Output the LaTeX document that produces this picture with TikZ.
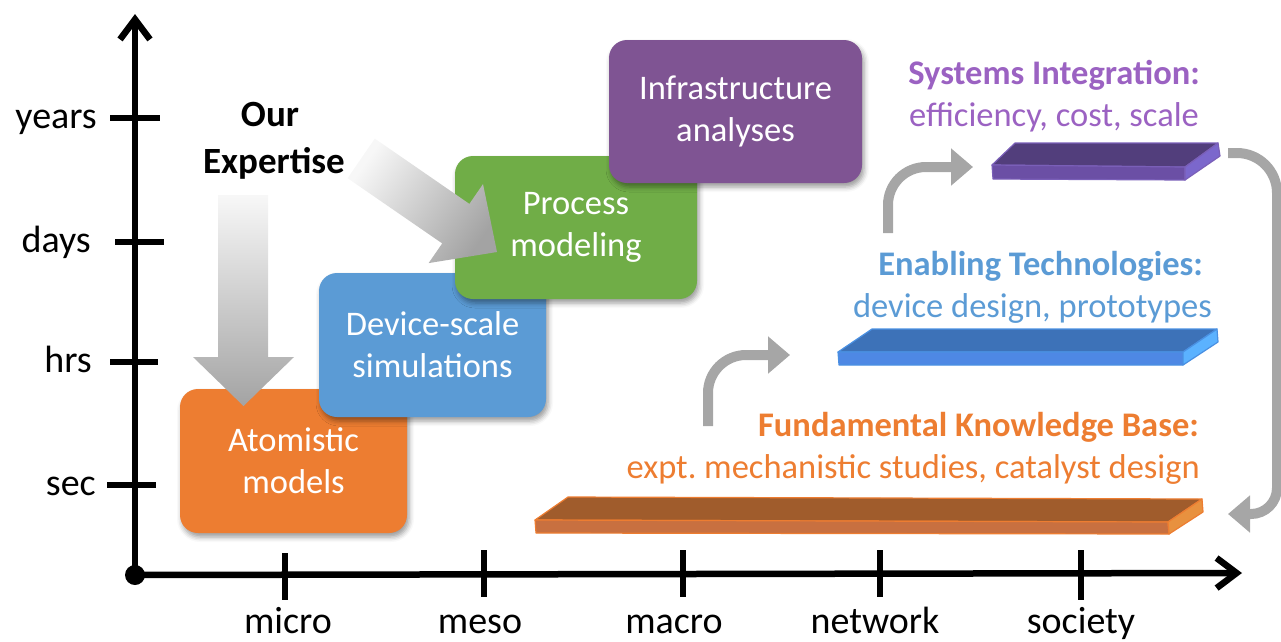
\documentclass[tikz,border=0pt]{standalone}
\usepackage{fontspec}
\setmainfont{Carlito}
\usetikzlibrary{arrows.meta,shadows.blur,calc}

% palette
\definecolor{cOrange}{HTML}{ED7D31}
\definecolor{cBlue}{HTML}{5B9BD5}
\definecolor{cGreen}{HTML}{70AD47}
\definecolor{cPurple}{HTML}{7F5493}
\definecolor{cPurpleText}{HTML}{9B62C2}
\definecolor{cArrow}{HTML}{A6A6A6}
% slab faces
\definecolor{pTop}{HTML}{523E7C}
\definecolor{pFront}{HTML}{6B4FA5}
\definecolor{pSide}{HTML}{7B67CC}
\definecolor{pEdge}{HTML}{7A5FB8}
\definecolor{bTop}{HTML}{3D72B8}
\definecolor{bFront}{HTML}{4E88E4}
\definecolor{bSide}{HTML}{5BB2FF}
\definecolor{bEdge}{HTML}{4A90E2}
\definecolor{oTop}{HTML}{A05C2C}
\definecolor{oFront}{HTML}{C87040}
\definecolor{oSide}{HTML}{E8913F}

\begin{document}
\begin{tikzpicture}[x=1pt,y=-1pt,
  axis/.style={line width=6.5pt,black,-{Straight Barb[length=20pt,width=30pt]}},
  tickmark/.style={line width=5.5pt,black},
  axlabel/.style={font=\fontsize{38}{40}\selectfont,inner sep=0pt},
  scalebox/.style={rounded corners=18pt,text=white,align=center,inner sep=0pt,
    font=\fontsize{34.5}{42}\selectfont,
    blur shadow={shadow xshift=2pt,shadow yshift=-4pt,shadow blur radius=5pt,shadow opacity=40}},
  headline/.style={font=\bfseries\fontsize{34.5}{42}\selectfont,inner sep=0pt,anchor=base east},
  subline/.style={font=\fontsize{34.5}{42}\selectfont,inner sep=0pt,anchor=base east},
  slabedge/.style={line width=1.2pt,line join=round},
  garrow/.style={line width=10pt,cArrow,-{Triangle[length=22pt,width=36pt]}},
  bigarrow/.style={top color=black!3,bottom color=black!36},
]
\useasboundingbox (0,0) rectangle (1281,641);

% ---- axes ----
\coordinate (O) at (135,575);
\coordinate (ytop) at (135,14);
\coordinate (xend) at (1242,573);
\draw[axis] (O) -- (ytop);
\draw[axis] (O) -- (xend);
\fill (O) circle (10);

% time ticks and labels
\draw[tickmark] (110,118) -- (160,118);
\draw[tickmark] (115,242) -- (164,242);
\draw[tickmark] (110,362) -- (158,362);
\draw[tickmark] (107,485) -- (156,485);
\node[axlabel,anchor=base east] (tyears) at (97,128) {years};
\node[axlabel,anchor=base east] (tdays)  at (91,252) {days};
\node[axlabel,anchor=base east] (thrs)   at (92,372) {hrs};
\node[axlabel,anchor=base east] (tsec)   at (96,495) {sec};

% scale ticks and labels
\draw[tickmark] (285,553) -- (285,600);
\draw[tickmark] (484,550) -- (484,597);
\draw[tickmark] (683,550) -- (683,597);
\draw[tickmark] (880,550) -- (880,597);
\draw[tickmark] (1081,550) -- (1081,600);
\node[axlabel,anchor=base] (smicro)   at (288,633) {micro};
\node[axlabel,anchor=base] (smeso)    at (480,633) {meso};
\node[axlabel,anchor=base] (smacro)   at (674,633) {macro};
\node[axlabel,anchor=base] (snetwork) at (875,633) {network};
\node[axlabel,anchor=base] (ssociety) at (1081,633) {society};

% ---- modelling scales, stacked left to right ----
\node[scalebox,fill=cOrange,minimum width=227pt,minimum height=144pt] (atom) at (293.5,461) {Atomistic\\models};
\node[scalebox,fill=cBlue,minimum width=227pt,minimum height=144pt] (device) at (432.5,345) {Device-scale\\simulations};
\node[scalebox,fill=cGreen,minimum width=242pt,minimum height=143pt] (process) at (576,227.5) {Process\\modeling};
\node[scalebox,fill=cPurple,minimum width=253pt,minimum height=143pt] (infra) at (735.5,111.5) {Infrastructure\\analyses};

% ---- expertise arrows ----
\shade[bigarrow] (218,195) -- (268,195) -- (268,357) -- (294,357) -- (243.5,406)
  -- (193,357) -- (218,357) -- cycle;
\shade[bigarrow,shading angle=55] (374.8,138.6) -- (469.4,203.9) -- (483.0,184.1)
  -- (497,252) -- (428.6,263.1) -- (442.2,243.4) -- (347.6,178.2) -- cycle;
\node[font=\bfseries\fontsize{37}{40}\selectfont,inner sep=0pt,anchor=base] (ourA) at (270,126) {Our};
\node[font=\bfseries\fontsize{37}{40}\selectfont,inner sep=0pt,anchor=base] (ourB) at (274,173) {Expertise};

% ---- impact levels ----
\node[headline,text=cPurpleText] (si1) at (1200,84) {Systems Integration:};
\node[subline,text=cPurpleText] (si2) at (1199,126) {efficiency, cost, scale};
\node[headline,text=cBlue] (et1) at (1203,275) {Enabling Technologies:};
\node[subline,text=cBlue] (et2) at (1212,317) {device design, prototypes};
\node[headline,text=cOrange] (fk1) at (1199,436) {Fundamental Knowledge Base:};
\node[subline,text=cOrange] (fk2) at (1200,478) {expt.\ mechanistic studies, catalyst design};

% purple slab
\filldraw[slabedge,fill=pTop,draw=pEdge] (992,165) -- (1015,143) -- (1218,143) -- (1185,167) -- cycle;
\filldraw[slabedge,fill=pFront,draw=pEdge] (992,165) -- (1185,167) -- (1185,180) -- (993,179) -- cycle;
\filldraw[slabedge,fill=pSide,draw=pEdge] (1185,167) -- (1218,143) -- (1220,156) -- (1185,180) -- cycle;
% blue slab
\filldraw[slabedge,fill=bTop,draw=bEdge] (838,352) -- (872,329) -- (1217,329) -- (1183,352) -- cycle;
\filldraw[slabedge,fill=bFront,draw=bEdge] (838,352) -- (1183,352) -- (1183,365) -- (839,365) -- cycle;
\filldraw[slabedge,fill=bSide,draw=bEdge] (1183,352) -- (1217,329) -- (1218,342) -- (1183,365) -- cycle;
% orange slab
\filldraw[slabedge,fill=oTop,draw=cOrange] (535,520) -- (568,497) -- (1202,499) -- (1168,522) -- cycle;
\filldraw[slabedge,fill=oFront,draw=cOrange] (535,520) -- (1168,522) -- (1169,534) -- (536,533) -- cycle;
\filldraw[slabedge,fill=oSide,draw=cOrange] (1168,522) -- (1202,499) -- (1203,512) -- (1169,534) -- cycle;

% ---- feedback arrows between levels ----
\coordinate (up1s) at (708,426);
\coordinate (up1e) at (790,355);
\coordinate (up2s) at (888,233);
\coordinate (up2e) at (973,167);
\coordinate (backs) at (1228,153);
\coordinate (backe) at (1228,514);
\draw[garrow,rounded corners=38pt] (up1s) |- (up1e);
\draw[garrow,rounded corners=38pt] (up2s) |- (up2e);
\draw[garrow] (backs) [rounded corners=40pt] -- (1277,153) [rounded corners=26pt] -- (1277,514) -- (backe);
\end{tikzpicture}
\end{document}
